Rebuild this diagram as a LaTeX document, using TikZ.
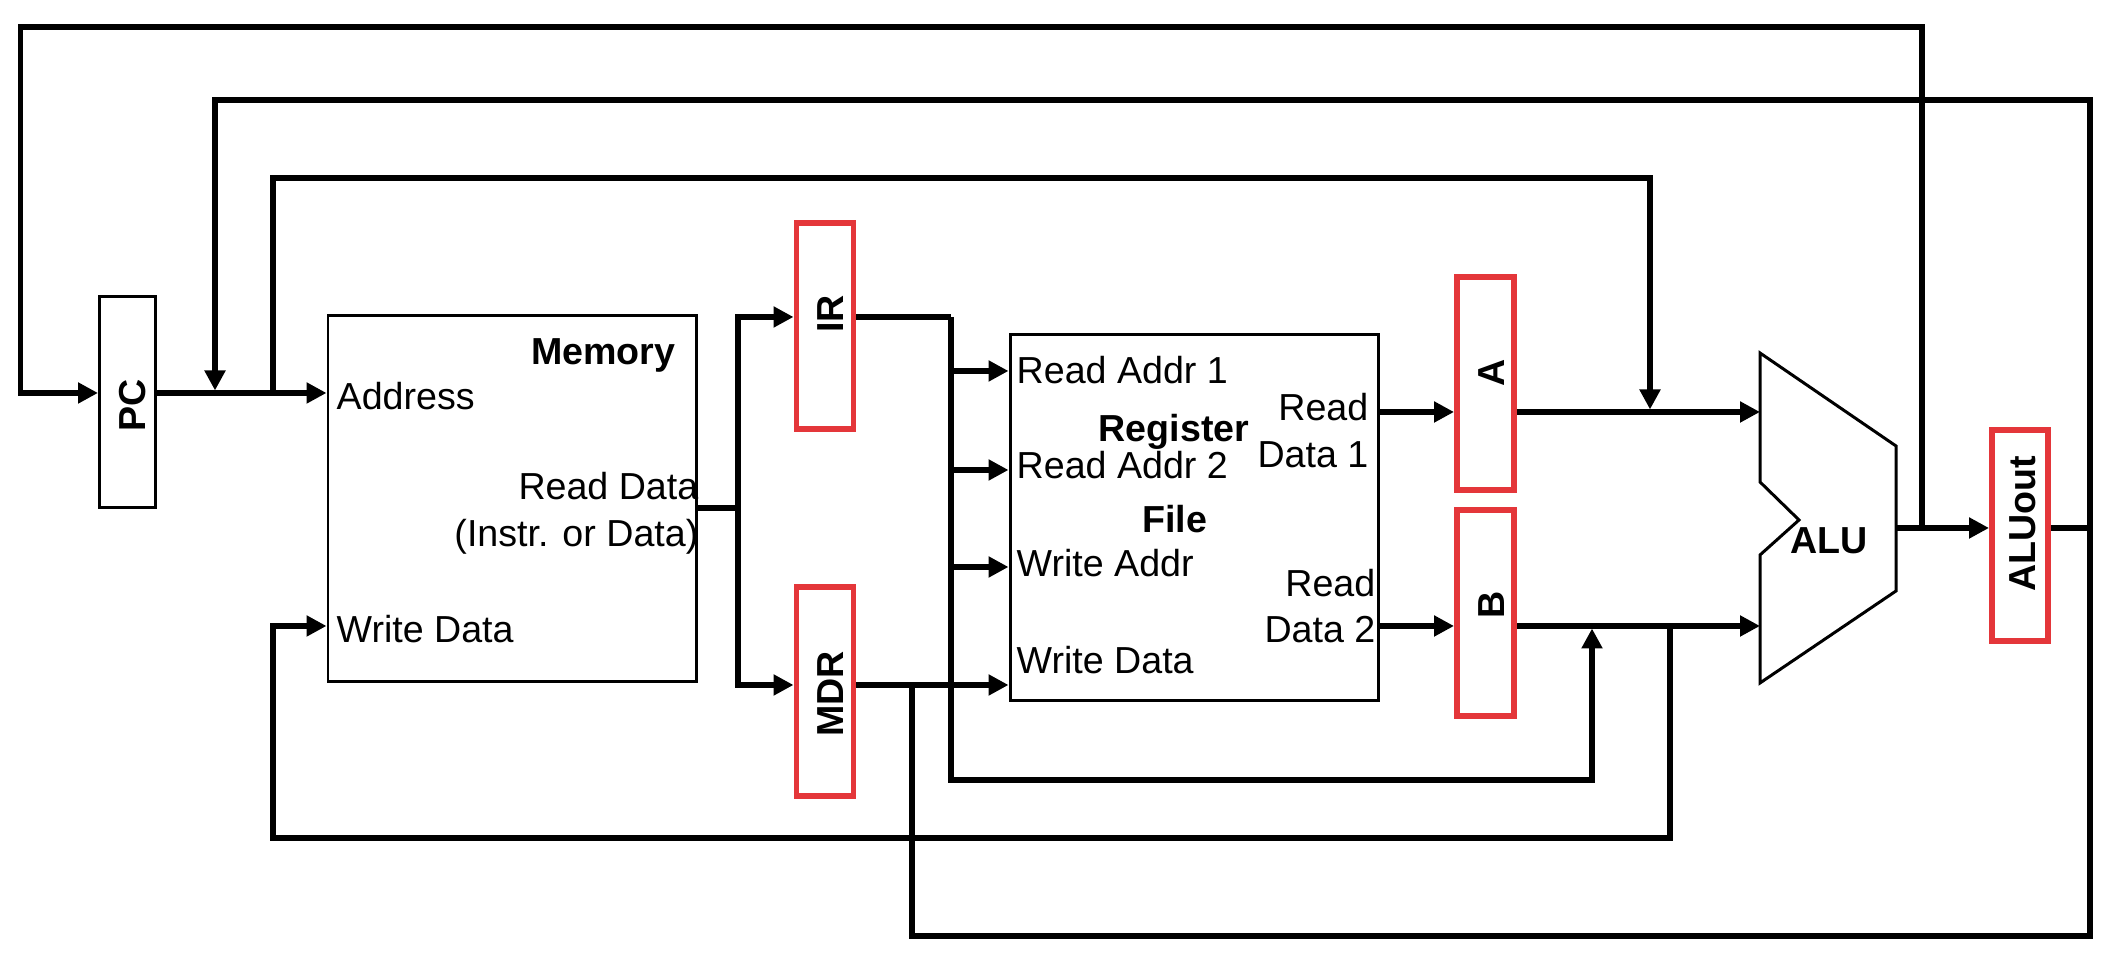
\documentclass[tikz,border=0pt]{standalone}
\usepackage{fontspec}
\setmainfont{Liberation Sans}
\usepackage{xcolor}
\usetikzlibrary{arrows.meta,calc}

\definecolor{regred}{RGB}{228,54,58}

\begin{document}
\begin{tikzpicture}[
  block/.style={
    draw,
    line width=0.85pt,
    inner sep=0pt
  },
  regbox/.style={
    draw=regred,
    line width=1.7pt,
    minimum width=0.57cm,
    inner sep=0pt
  },
  reglabel/.style={
    rotate=90,
    inner sep=0pt,
    font=\fontsize{10.7}{13}\selectfont\bfseries
  },
  port/.style={
    inner sep=0pt,
    font=\fontsize{10.7}{13}\selectfont
  },
  heading/.style={
    inner sep=0pt,
    font=\fontsize{10.7}{13}\selectfont\bfseries
  },
  wire/.style={line width=1.5pt},
  arrow/.style={-{Triangle[length=0.2cm,width=0.2cm]},wire}
]
\useasboundingbox (0,0) rectangle (21.16,9.54);

% storage blocks
\node[block,minimum width=0.56cm,minimum height=2.11cm] (pc) at (1.275,5.52) {};
\node[block,minimum width=3.68cm,minimum height=3.66cm] (mem) at (5.12,4.55) {};
\node[block,minimum width=3.68cm,minimum height=3.66cm] (rf) at (11.94,4.36) {};

% state registers
\node[regbox,minimum height=2.06cm] (ir) at (8.25,6.28) {};
\node[regbox,minimum height=2.09cm] (mdr) at (8.25,2.625) {};
\node[regbox,minimum height=2.13cm] (a) at (14.855,5.705) {};
\node[regbox,minimum height=2.06cm] (b) at (14.855,3.41) {};
\node[regbox,minimum width=0.56cm,minimum height=2.11cm] (aluout) at (20.20,4.185) {};

\node[reglabel] (pclbl) at (1.325,5.49) {PC};
\node[reglabel] (irlbl) at (8.31,6.40) {IR};
\node[reglabel] (mdrlbl) at (8.31,2.60) {MDR};
\node[reglabel] (albl) at (14.92,5.81) {A};
\node[reglabel] (blbl) at (14.92,3.49) {B};
\node[reglabel] (aluoutlbl) at (20.23,4.30) {ALUout};

% memory ports
\node[heading,anchor=base east] (memtitle) at (6.76,5.89) {Memory};
\node[port,anchor=base west] (addr) at (3.36,5.44) {Address};
\node[port,anchor=base east] (rdata) at (6.99,4.54) {Read Data};
\node[port,anchor=base east] (rdnote) at (6.99,4.07) {(Instr. or Data)};
\node[port,anchor=base west] (wdata) at (3.36,3.11) {Write Data};

% register file ports
\node[port,anchor=base west] (ra1) at (10.16,5.70) {Read Addr 1};
\node[port,anchor=base west] (ra2) at (10.16,4.75) {Read Addr 2};
\node[port,anchor=base west] (wa) at (10.16,3.77) {Write Addr};
\node[port,anchor=base west] (rfwd) at (10.16,2.80) {Write Data};
\node[heading,anchor=base] (rftitle) at (11.74,5.12) {Register};
\node[heading,anchor=base] (rftitle2) at (11.745,4.21) {File};
\node[port,anchor=base east] (rd1a) at (13.69,5.33) {Read};
\node[port,anchor=base east] (rd1b) at (13.69,4.86) {Data 1};
\node[port,anchor=base east] (rd2a) at (13.76,3.57) {Read};
\node[port,anchor=base east] (rd2b) at (13.76,3.11) {Data 2};

% ALU
\coordinate (alua) at (17.60,5.42);
\coordinate (alub) at (17.60,3.28);
\coordinate (aluo) at (18.96,4.26);
\draw[line width=0.85pt] (17.60,6.01) -- (18.96,5.08) -- (18.96,3.63) -- (17.60,2.71)
  -- (17.60,3.99) -- (17.99,4.34) -- (17.60,4.72) -- cycle;
\node[heading] (alulbl) at (18.29,4.13) {ALU};

% bus levels and junctions
\coordinate (pcbus) at (0,5.61);
\coordinate (abus) at (0,5.42);
\coordinate (bbus) at (0,3.28);
\coordinate (irbus) at (0,6.37);
\coordinate (mdrbus) at (0,2.69);
\coordinate (res) at (19.22,4.26);
\coordinate (fork) at (7.38,4.46);
\coordinate (irtap) at (9.51,6.37);
\coordinate (mdrtap) at (9.12,2.69);
\coordinate (pctap) at (2.73,5.61);
\coordinate (atap) at (16.50,5.42);
\coordinate (btap) at (16.70,3.28);
\coordinate (immtap) at (15.92,3.28);

% PC and memory
\draw[arrow] (res) |- (0.205,9.27) |- (pc.west |- pcbus);
\draw[arrow] (pc.east |- pcbus) -- (mem.west |- pcbus);
\draw[arrow] (mdrtap) |- (20.90,0.18) |- (2.15,8.54) -- ([yshift=0.025cm]2.15,5.61);
\draw[arrow] (pctap) |- (atap |- 0,7.76) -- ([yshift=0.025cm]atap);
\draw[wire] (mem.east |- fork) -- (fork);
\draw[arrow] (fork) |- (ir.west |- irbus);
\draw[arrow] (fork) |- (mdr.west |- mdrbus);

% register file
\draw[wire] (ir.east |- irbus) -- (irtap);
\draw[arrow] (irtap) |- (immtap |- 0,1.74) -- ([yshift=-0.025cm]immtap);
\draw[arrow] (irtap |- 0,5.83) -- (rf.west |- 0,5.83);
\draw[arrow] (irtap |- 0,4.84) -- (rf.west |- 0,4.84);
\draw[arrow] (irtap |- 0,3.87) -- (rf.west |- 0,3.87);
\draw[arrow] (mdr.east |- mdrbus) -- (rf.west |- mdrbus);
\draw[arrow] (rf.east |- abus) -- (a.west |- abus);
\draw[arrow] (rf.east |- bbus) -- (b.west |- bbus);

% ALU inputs and result
\draw[arrow] (a.east |- abus) -- (alua);
\draw[arrow] (b.east |- bbus) -- (alub);
\draw[arrow] (btap) |- (2.73,1.16) |- (mem.west |- bbus);
\draw[arrow] (aluo) -- (aluout.west |- aluo);
\draw[wire] (aluout.east |- aluo) -- (20.90,4.26);
\end{tikzpicture}
\end{document}
